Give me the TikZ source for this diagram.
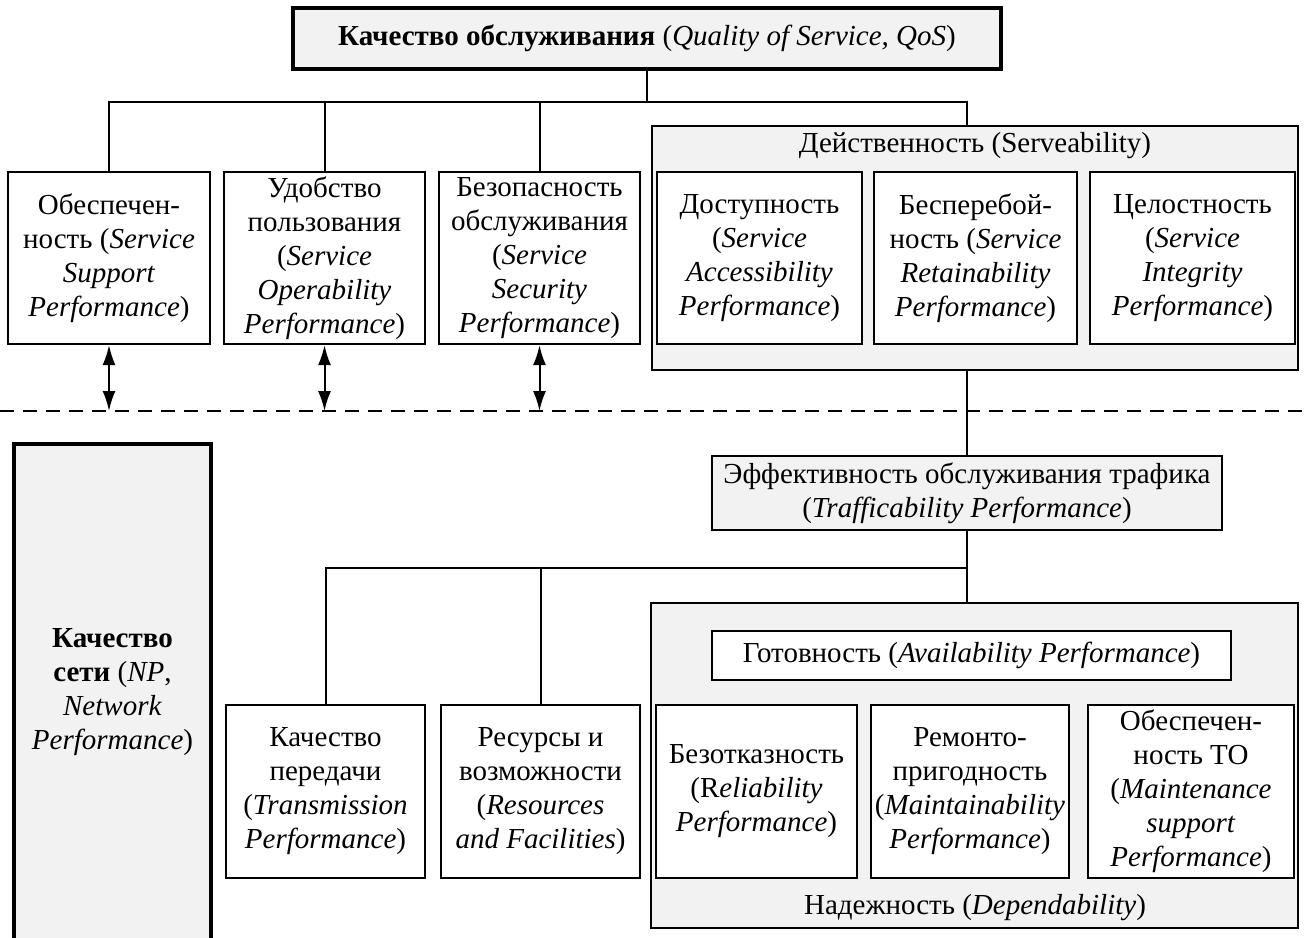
\documentclass[tikz,border=0pt]{standalone}
\usepackage{fontspec}
\setmainfont{Liberation Serif}
\usetikzlibrary{arrows.meta,positioning}

\tikzset{
  box/.style={draw, line width=2.2pt, fill=white, align=center, inner sep=0pt},
  grp/.style={box, fill=black!5},
  mainbox/.style={grp, line width=3.4pt},
  link/.style={line width=2pt},
  arr/.style={link, {Latex[length=20pt,width=13pt]}-{Latex[length=20pt,width=13pt]}},
}

\begin{document}
\begin{tikzpicture}[x=1pt, y=-1pt, font=\fontsize{29}{34}\selectfont]
	\useasboundingbox (0,0) rectangle (1306,937);

	% top: quality of service
	\node[mainbox, minimum width=708pt, minimum height=61pt] (qos) at (647,38.5)
		{\textbf{Качество обслуживания} (\textit{Quality of Service, QoS})};

	% service side
	\node[box, minimum width=202pt, minimum height=172pt] (ssp) at (109,258)
		{Обеспечен-\\ность (\textit{Service}\\\textit{Support}\\\textit{Performance})};
	\node[box, minimum width=201pt, minimum height=172pt] (sop) at (324.5,258)
		{Удобство\\пользования\\(\textit{Service}\\\textit{Operability}\\\textit{Performance})};
	\node[box, minimum width=201pt, minimum height=172pt] (ssec) at (539.5,258)
		{Безопасность\\обслуживания\\(\textit{Service}\\\textit{Security}\\\textit{Performance})};

	\node[grp, minimum width=646pt, minimum height=244pt] (serv) at (975,248) {};
	\node (servt) at (975,146) {Действенность (Serveability)};
	\node[box, minimum width=205pt, minimum height=172pt] (sacc) at (759.5,258)
		{Доступность\\(\textit{Service}\\\textit{Accessibility}\\\textit{Performance})};
	\node[box, minimum width=203pt, minimum height=172pt] (sret) at (975.5,258)
		{Бесперебой-\\ность (\textit{Service}\\\textit{Retainability}\\\textit{Performance})};
	\node[box, minimum width=205pt, minimum height=172pt] (sint) at (1192.5,258)
		{Целостность\\(\textit{Service}\\\textit{Integrity}\\\textit{Performance})};

	% network side
	\node[mainbox, minimum width=197pt, minimum height=496pt] (np) at (112.5,692)
		{\textbf{Качество}\\\textbf{сети} (\textit{NP},\\\textit{Network}\\\textit{Performance})};
	\node[grp, minimum width=510pt, minimum height=74pt] (traf) at (967,493)
		{Эффективность обслуживания трафика\\(\textit{Trafficability Performance})};
	\node[box, minimum width=199pt, minimum height=173pt] (tp) at (325.5,791.5)
		{Качество\\передачи\\(\textit{Transmission}\\\textit{Performance})};
	\node[box, minimum width=199pt, minimum height=173pt] (rf) at (540.5,791.5)
		{Ресурсы и\\возможности\\(\textit{Resources}\\\textit{and Facilities})};

	\node[grp, minimum width=647pt, minimum height=325pt] (dep) at (974.5,765.5) {};
	\node[box, minimum width=519pt, minimum height=49pt] (avail) at (971.5,655.5)
		{Готовность (\textit{Availability Performance})};
	\node[box, minimum width=201pt, minimum height=173pt] (rel) at (756.5,791.5)
		{Безотказность\\(R\textit{eliability}\\\textit{Performance})};
	\node[box, minimum width=198pt, minimum height=173pt] (mnt) at (970,791.5)
		{Ремонто-\\пригодность\\(\textit{Maintainability}\\\textit{Performance})};
	\node[box, minimum width=206pt, minimum height=173pt] (mss) at (1191,791.5)
		{Обеспечен-\\ность ТО\\(\textit{Maintenance}\\\textit{support}\\\textit{Performance})};
	\node (dept) at (975,908) {Надежность (\textit{Dependability})};

	% links
	\coordinate (dl) at (0,411); % boundary line
	\draw[link, dash pattern=on 14pt off 9pt] (dl) -- (1306,411);

	\draw[link] (qos.south) -- ++(0,31) coordinate (b1);
	\draw[link] (ssp.north) |- (b1) -| (traf.north |- serv.north);
	\draw[link] (sop.north) -- (sop.north |- b1);
	\draw[link] (ssec.north) -- (ssec.north |- b1);

	\draw[arr] (ssp.south) -- (ssp.south |- dl);
	\draw[arr] (sop.south) -- (sop.south |- dl);
	\draw[arr] (ssec.south) -- (ssec.south |- dl);

	\draw[link] (traf.north |- serv.south) -- (traf.north);
	\draw[link] (traf.south) -- (traf.south |- dep.north);
	\coordinate (b2) at (967,568);
	\draw[link] (tp.north) |- (b2);
	\draw[link] (rf.north) -- (rf.north |- b2);
\end{tikzpicture}
\end{document}
